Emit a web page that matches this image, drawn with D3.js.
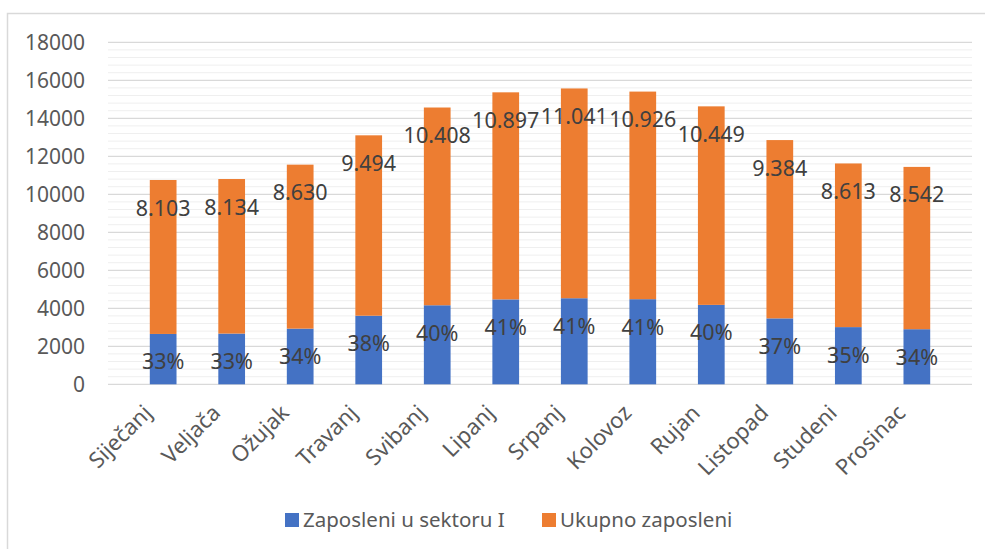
<!DOCTYPE html>
<html>
<head>
<meta charset="utf-8">
<script src="https://cdn.jsdelivr.net/npm/d3@7"></script>
<style>
  body { margin: 0; background: #fff; }
  text { font-family: "Noto Sans", sans-serif; }
</style>
</head>
<body>
<div id="chart"></div>
<script>
// data
const months = ["Siječanj", "Veljača", "Ožujak", "Travanj", "Svibanj", "Lipanj",
  "Srpanj", "Kolovoz", "Rujan", "Listopad", "Studeni", "Prosinac"];
const sektorI = [2650, 2670, 2930, 3610, 4160, 4470, 4530, 4480, 4180, 3470, 3010, 2900];
const ukupno = [8103, 8134, 8630, 9494, 10408, 10897, 11041, 10926, 10449, 9384, 8613, 8542];
const udio = ["33%", "33%", "34%", "38%", "40%", "41%", "41%", "41%", "40%", "37%", "35%", "34%"];
const seriesNames = ["Zaposleni u sektoru I", "Ukupno zaposleni"];
const colors = ["#4472C4", "#ED7D31"];

const W = 985, H = 549;
const margin = { top: 42.3, right: 13, bottom: 164.7, left: 108 };
const width = W - margin.left - margin.right;
const height = H - margin.top - margin.bottom;

const svg = d3.select("#chart").append("svg")
  .attr("width", W).attr("height", H);

// chart border (only top and left visible)
svg.append("path")
  .attr("d", `M7.5,${H} V13.5 H${W}`)
  .attr("fill", "none").attr("stroke", "#d9d9d9").attr("stroke-width", 1.5);

const g = svg.append("g").attr("transform", `translate(${margin.left},${margin.top})`);

const x = d3.scaleBand().domain(months).range([0, width]).padding(0.61);
const y = d3.scaleLinear().domain([0, 18000]).range([height, 0]);

// minor gridlines
g.append("g").selectAll("line")
  .data(d3.range(400, 18001, 400).filter(v => v % 2000 !== 0))
  .enter().append("line")
  .attr("x1", 0).attr("x2", width)
  .attr("y1", d => y(d)).attr("y2", d => y(d))
  .attr("stroke", "#efefef").attr("stroke-width", 1);

// major gridlines
g.append("g").selectAll("line")
  .data(d3.range(0, 18001, 2000))
  .enter().append("line")
  .attr("x1", 0).attr("x2", width)
  .attr("y1", d => y(d)).attr("y2", d => y(d))
  .attr("stroke", "#d9d9d9").attr("stroke-width", 1.3);

// y axis labels
const yAxis = g.append("g")
  .call(d3.axisLeft(y).tickValues(d3.range(0, 18001, 2000)).tickSize(0).tickPadding(23).tickFormat(d3.format("d")));
yAxis.select(".domain").remove();
yAxis.selectAll("text").attr("font-size", 21).attr("fill", "#595959")
  .style("font-family", "'Noto Sans', sans-serif");

// stacked bars
const rows = months.map((m, i) => ({ month: m, s0: sektorI[i], s1: ukupno[i] }));
const stack = d3.stack().keys(["s0", "s1"])(rows);

const layers = g.selectAll(".layer").data(stack).enter().append("g")
  .attr("fill", (d, i) => colors[i]);

layers.selectAll("rect").data(d => d).enter().append("rect")
  .attr("x", d => x(d.data.month))
  .attr("y", d => y(d[1]))
  .attr("width", x.bandwidth())
  .attr("height", d => y(d[0]) - y(d[1]));

// data labels
const fmt = v => d3.format(",")(v).replace(/,/g, ".");
layers.each(function(layer, li) {
  d3.select(this).selectAll("text").data(layer).enter().append("text")
    .attr("x", d => x(d.data.month) + x.bandwidth() / 2)
    .attr("y", d => y(d[1]) + 28)
    .attr("dy", "0.35em")
    .attr("text-anchor", "middle")
    .attr("font-size", 21.5)
    .attr("fill", "#404040")
    .text((d, i) => li === 0 ? udio[i] : fmt(ukupno[i]));
});

// x axis
const xAxis = g.append("g").attr("transform", `translate(0,${height})`)
  .call(d3.axisBottom(x).tickSize(0).tickPadding(0));
xAxis.select(".domain").remove();
xAxis.selectAll("text")
  .attr("font-size", 22).attr("fill", "#595959")
  .style("font-family", "'Noto Sans', sans-serif")
  .attr("text-anchor", "end")
  .attr("dy", 0)
  .attr("y", 0)
  .attr("transform", "translate(-10,30) rotate(-45)");

// legend
const legend = svg.append("g").attr("transform", "translate(285,520)");
const lx = [0, 257];
seriesNames.forEach((name, i) => {
  const item = legend.append("g").attr("transform", `translate(${lx[i]},0)`);
  item.append("rect").attr("x", 0).attr("y", -7).attr("width", 14).attr("height", 14)
    .attr("fill", colors[i]);
  item.append("text").attr("x", 18).attr("dy", "0.35em")
    .attr("font-size", 20.5).attr("fill", "#595959").text(name);
});
</script>
</body>
</html>
